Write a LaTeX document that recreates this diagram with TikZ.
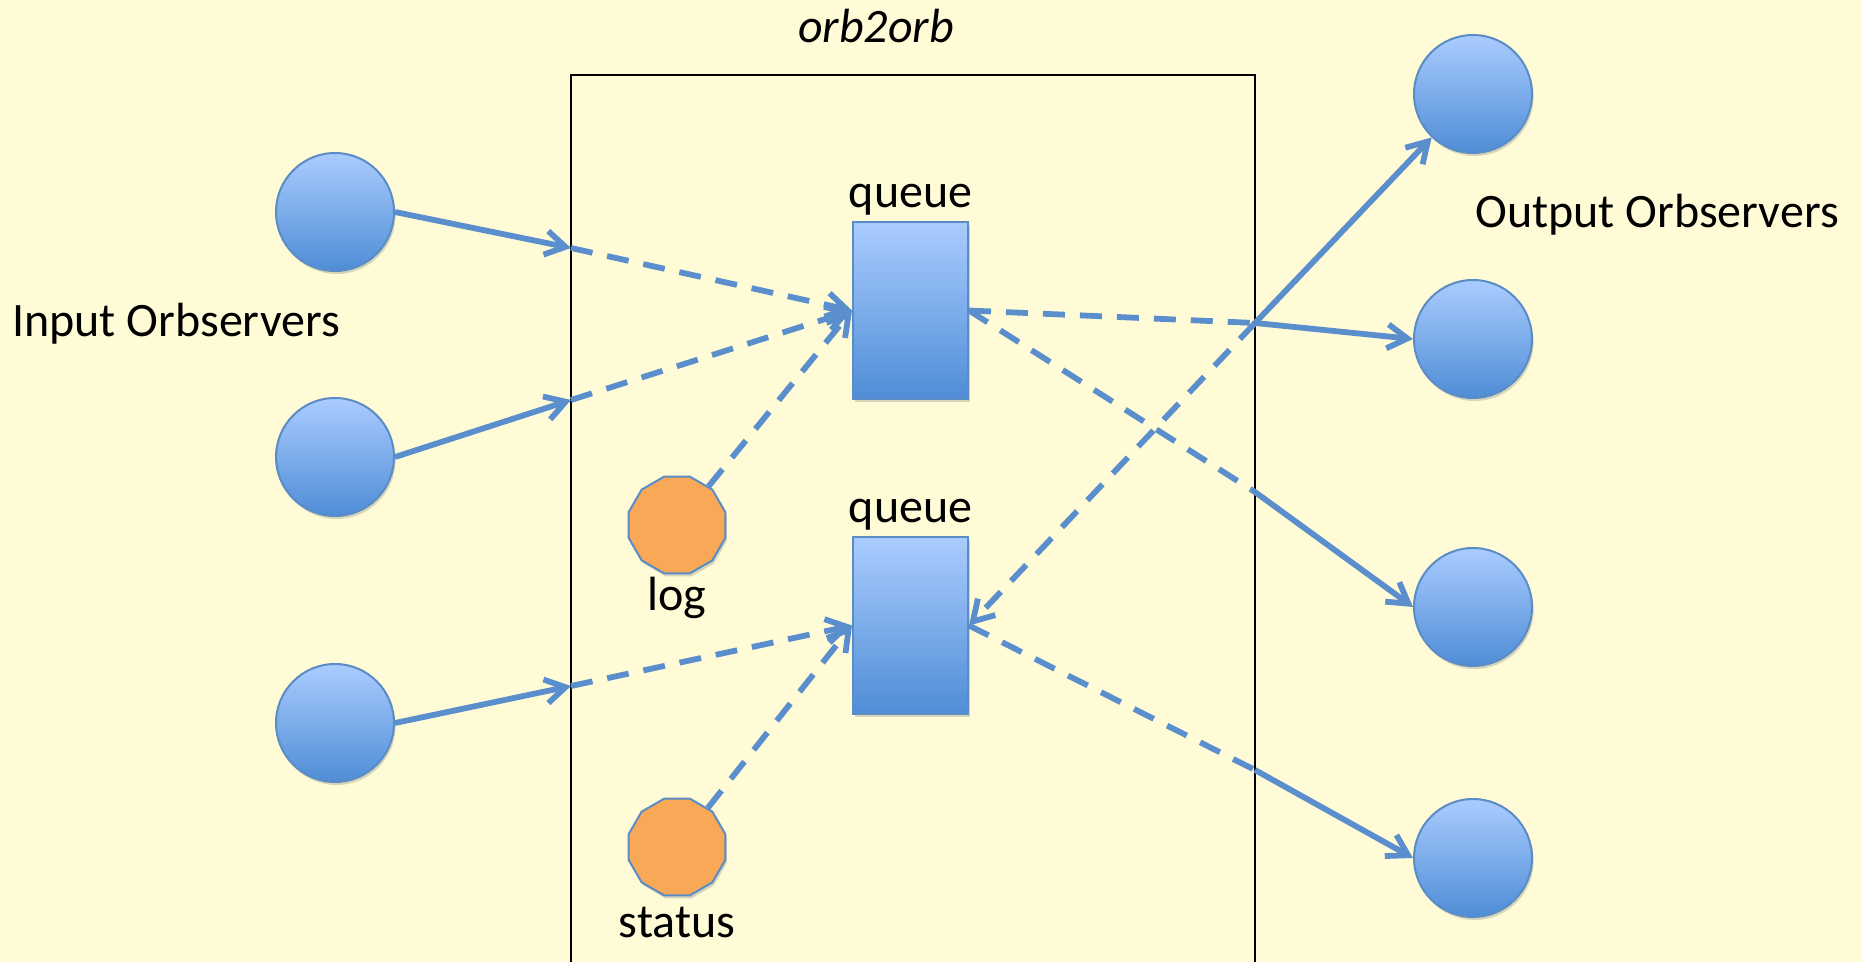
\documentclass[tikz,border=0pt]{standalone}
\usepackage{fontspec}
\setmainfont{Carlito}
\usetikzlibrary{positioning,shapes.geometric,arrows.meta,shadows}

\definecolor{paper}{HTML}{FEFBD6}
\definecolor{link}{HTML}{5B8ECC}
\definecolor{rim}{HTML}{5A8CC6}
\definecolor{orbtop}{HTML}{AACCFF}
\definecolor{orbbot}{HTML}{4F8DD6}
\definecolor{watch}{HTML}{F9A857}

\tikzset{
  soft/.style={drop shadow={opacity=0.25, fill=black!60, shadow xshift=0.8pt, shadow yshift=-1.5pt}},
  orb/.style={circle, draw=rim, line width=1pt, top color=orbtop, bottom color=orbbot,
    minimum size=59pt, inner sep=0pt, soft},
  queuebox/.style={rectangle, draw=rim, line width=1pt, top color=orbtop, bottom color=orbbot,
    minimum width=57.5pt, minimum height=88.5pt, inner sep=0pt, soft},
  monitor/.style={regular polygon, regular polygon sides=12, draw=rim, line width=1pt,
    fill=watch, minimum size=50pt, inner sep=0pt, soft},
  wire/.style={draw=link, line width=2.9pt},
  feed/.style={wire, -{Straight Barb[length=10pt,width=12pt]}},
  dashy/.style={dash pattern=on 11pt off 7.5pt}
}

\begin{document}
\begin{tikzpicture}[x=0.5pt, y=-0.5pt, font=\fontsize{24}{29}\selectfont]
  \fill[paper] (0,0) rectangle (1862,962);
  \useasboundingbox (0,0) rectangle (1862,962);

  \draw[line width=1.25pt] (571,962) -- (571,75) -- (1255,75) -- (1255,962);
  \node (title) at (876,26) {\itshape orb2orb};

  \node[orb] (i1) at (335,212) {};
  \node[orb] (i2) at (335,457) {};
  \node[orb] (i3) at (335,723) {};
  \node (lin) at (176,324) {Input Orbservers};

  \node[orb] (o1) at (1473,94) {};
  \node[orb] (o2) at (1473,339) {};
  \node[orb] (o3) at (1473,607) {};
  \node[orb] (o4) at (1473,858) {};
  \node (lout) at (1657,215) {Output Orbservers};

  \node[queuebox] (q1) at (910.5,310.5) {};
  \node[queuebox] (q2) at (910.5,625.5) {};
  \node[above=1.5pt of q1, inner sep=1pt] (q1l) {queue};
  \node[above=1.5pt of q2, inner sep=1pt] (q2l) {queue};

  \node[monitor] (log) at (677,525) {};
  \node[below=0pt of log, inner sep=1pt] (logl) {log};
  \node[monitor] (st) at (677,847) {};
  \node[below=4pt of st, inner sep=1pt] (stl) {status};

  \coordinate (e1) at (571,248);
  \coordinate (e2) at (571,400);
  \coordinate (e3) at (571,686);
  \coordinate (j1) at (1255,323);
  \coordinate (j2) at (1255,492);
  \coordinate (j3) at (1255,770);

  \draw[feed] (i1.east) -- (e1);
  \draw[feed, dashy] (e1) -- (q1.west);
  \draw[feed] (i2.east) -- (e2);
  \draw[feed, dashy] (e2) -- (q1.west);
  \draw[feed] (i3.east) -- (e3);
  \draw[feed, dashy] (e3) -- (q2.west);
  \draw[feed, dashy] (log) -- (q1.west);
  \draw[feed, dashy] (st) -- (q2.west);

  \draw[wire, dashy] (q1.east) -- (j1);
  \draw[feed] (j1) -- (o1);
  \draw[feed] (j1) -- (o2.west);
  \draw[feed, dashy] (j1) -- (q2.east);
  \draw[wire, dashy] (q1.east) -- (j2);
  \draw[feed] (j2) -- (o3.west);
  \draw[wire, dashy] (q2.east) -- (j3);
  \draw[feed] (j3) -- (o4.west);
\end{tikzpicture}
\end{document}
